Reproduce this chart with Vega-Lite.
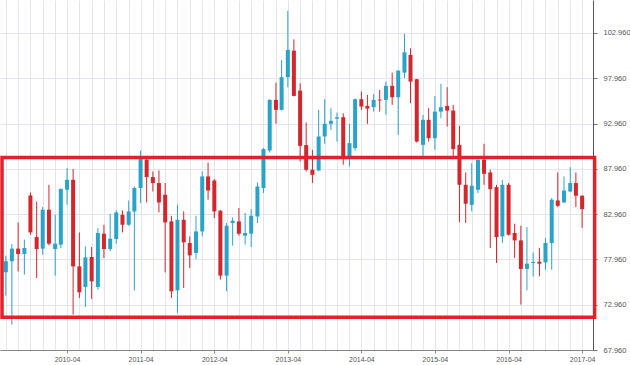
{
  "$schema": "https://vega.github.io/schema/vega-lite/v6.json",
  "width": 593,
  "height": 350,
  "padding": {"left": 0, "top": 0, "right": 37, "bottom": 15},
  "autosize": "none",
  "background": "white",
  "config": {"view": {"stroke": null}, "axis": {"labelFont": "Liberation Sans"}},
  "data": {"values": [
    {"d": "2009-06-01", "o": 76.53, "h": 78.37, "l": 73.96, "c": 77.75},
    {"d": "2009-07-01", "o": 77.75, "h": 79.66, "l": 70.77, "c": 79.15},
    {"d": "2009-08-01", "o": 79.15, "h": 82.05, "l": 76.64, "c": 78.56},
    {"d": "2009-09-01", "o": 78.56, "h": 80.14, "l": 76.28, "c": 79.22},
    {"d": "2009-10-01", "o": 85.02, "h": 85.35, "l": 80.69, "c": 80.94},
    {"d": "2009-11-01", "o": 80.43, "h": 84.36, "l": 75.91, "c": 79.11},
    {"d": "2009-12-01", "o": 79.15, "h": 83.74, "l": 78.48, "c": 83.45},
    {"d": "2010-01-01", "o": 83.45, "h": 86.2, "l": 79.5, "c": 79.7},
    {"d": "2010-02-01", "o": 79.11, "h": 82.89, "l": 76.17, "c": 79.7},
    {"d": "2010-03-01", "o": 79.59, "h": 85.8, "l": 79.22, "c": 85.73},
    {"d": "2010-04-01", "o": 85.65, "h": 88.04, "l": 83.99, "c": 86.75},
    {"d": "2010-05-01", "o": 86.75, "h": 87.93, "l": 71.87, "c": 77.19},
    {"d": "2010-06-01", "o": 77.19, "h": 80.94, "l": 73.71, "c": 74.33},
    {"d": "2010-07-01", "o": 74.92, "h": 79.4, "l": 72.72, "c": 78.19},
    {"d": "2010-08-01", "o": 78.23, "h": 79.33, "l": 73.6, "c": 75.54},
    {"d": "2010-09-01", "o": 74.92, "h": 81.43, "l": 74.63, "c": 80.88},
    {"d": "2010-10-01", "o": 80.8, "h": 81.79, "l": 78.12, "c": 79.11},
    {"d": "2010-11-01", "o": 79.11, "h": 83.0, "l": 78.85, "c": 80.25},
    {"d": "2010-12-01", "o": 80.21, "h": 83.37, "l": 79.7, "c": 83.15},
    {"d": "2011-01-01", "o": 82.89, "h": 83.37, "l": 80.94, "c": 81.79},
    {"d": "2011-02-01", "o": 81.79, "h": 84.47, "l": 81.68, "c": 83.26},
    {"d": "2011-03-01", "o": 83.26, "h": 86.02, "l": 74.55, "c": 85.84},
    {"d": "2011-04-01", "o": 85.84, "h": 89.98, "l": 84.18, "c": 89.14},
    {"d": "2011-05-01", "o": 88.96, "h": 89.05, "l": 84.25, "c": 87.05},
    {"d": "2011-06-01", "o": 87.05, "h": 87.67, "l": 85.46, "c": 86.39},
    {"d": "2011-07-01", "o": 86.39, "h": 87.78, "l": 83.15, "c": 84.25},
    {"d": "2011-08-01", "o": 85.1, "h": 86.39, "l": 76.53, "c": 82.05},
    {"d": "2011-09-01", "o": 82.16, "h": 82.78, "l": 73.71, "c": 74.44},
    {"d": "2011-10-01", "o": 74.55, "h": 83.99, "l": 72.06, "c": 82.34},
    {"d": "2011-11-01", "o": 82.34, "h": 83.26, "l": 74.81, "c": 79.84},
    {"d": "2011-12-01", "o": 79.77, "h": 80.5, "l": 77.02, "c": 78.41},
    {"d": "2012-01-01", "o": 78.67, "h": 82.78, "l": 78.0, "c": 81.05},
    {"d": "2012-02-01", "o": 81.05, "h": 87.67, "l": 80.5, "c": 87.12},
    {"d": "2012-03-01", "o": 87.12, "h": 88.66, "l": 84.55, "c": 85.57},
    {"d": "2012-04-01", "o": 86.67, "h": 86.83, "l": 82.53, "c": 83.26},
    {"d": "2012-05-01", "o": 83.34, "h": 83.4, "l": 75.73, "c": 76.17},
    {"d": "2012-06-01", "o": 76.17, "h": 81.98, "l": 74.44, "c": 81.68},
    {"d": "2012-07-01", "o": 81.98, "h": 82.6, "l": 79.48, "c": 82.23},
    {"d": "2012-08-01", "o": 82.16, "h": 83.63, "l": 80.58, "c": 80.8},
    {"d": "2012-09-01", "o": 80.58, "h": 83.08, "l": 79.59, "c": 80.88},
    {"d": "2012-10-01", "o": 80.8, "h": 83.52, "l": 79.33, "c": 82.78},
    {"d": "2012-11-01", "o": 82.71, "h": 86.46, "l": 81.98, "c": 86.02},
    {"d": "2012-12-01", "o": 85.84, "h": 90.25, "l": 85.28, "c": 90.14},
    {"d": "2013-01-01", "o": 89.98, "h": 95.65, "l": 89.76, "c": 95.57},
    {"d": "2013-02-01", "o": 95.57, "h": 97.48, "l": 92.93, "c": 94.47},
    {"d": "2013-03-01", "o": 94.47, "h": 99.98, "l": 94.4, "c": 98.08},
    {"d": "2013-04-01", "o": 98.08, "h": 105.42, "l": 96.97, "c": 101.09},
    {"d": "2013-05-01", "o": 101.01, "h": 102.26, "l": 95.95, "c": 96.01},
    {"d": "2013-06-01", "o": 96.6, "h": 97.41, "l": 88.77, "c": 90.5},
    {"d": "2013-07-01", "o": 90.58, "h": 93.07, "l": 87.67, "c": 87.86},
    {"d": "2013-08-01", "o": 87.86, "h": 90.06, "l": 86.39, "c": 87.3},
    {"d": "2013-09-01", "o": 87.78, "h": 94.47, "l": 87.7, "c": 91.53},
    {"d": "2013-10-01", "o": 91.53, "h": 95.65, "l": 90.72, "c": 92.93},
    {"d": "2013-11-01", "o": 92.93, "h": 94.66, "l": 92.27, "c": 93.26},
    {"d": "2013-12-01", "o": 93.51, "h": 94.17, "l": 90.97, "c": 93.66},
    {"d": "2014-01-01", "o": 93.66, "h": 94.1, "l": 88.41, "c": 89.32},
    {"d": "2014-02-01", "o": 89.32, "h": 92.93, "l": 88.22, "c": 90.8},
    {"d": "2014-03-01", "o": 90.25, "h": 95.72, "l": 89.98, "c": 95.65},
    {"d": "2014-04-01", "o": 95.65, "h": 96.49, "l": 94.47, "c": 94.84},
    {"d": "2014-05-01", "o": 94.91, "h": 96.12, "l": 92.93, "c": 94.61},
    {"d": "2014-06-01", "o": 94.77, "h": 96.23, "l": 94.28, "c": 95.57},
    {"d": "2014-07-01", "o": 95.6, "h": 96.67, "l": 94.28, "c": 95.5},
    {"d": "2014-08-01", "o": 95.57, "h": 97.59, "l": 93.92, "c": 97.12},
    {"d": "2014-09-01", "o": 97.12, "h": 98.58, "l": 95.02, "c": 95.87},
    {"d": "2014-10-01", "o": 95.87, "h": 98.85, "l": 91.71, "c": 98.8},
    {"d": "2014-11-01", "o": 98.58, "h": 102.85, "l": 97.96, "c": 100.83},
    {"d": "2014-12-01", "o": 100.53, "h": 101.27, "l": 95.21, "c": 97.59},
    {"d": "2015-01-01", "o": 97.85, "h": 97.9, "l": 90.87, "c": 90.97},
    {"d": "2015-02-01", "o": 90.61, "h": 93.92, "l": 89.4, "c": 93.37},
    {"d": "2015-03-01", "o": 93.37, "h": 94.66, "l": 90.97, "c": 91.35},
    {"d": "2015-04-01", "o": 91.35, "h": 96.01, "l": 90.06, "c": 94.28},
    {"d": "2015-05-01", "o": 94.28, "h": 97.34, "l": 93.55, "c": 94.77},
    {"d": "2015-06-01", "o": 94.91, "h": 96.97, "l": 92.63, "c": 94.39},
    {"d": "2015-07-01", "o": 94.39, "h": 95.02, "l": 89.32, "c": 90.14},
    {"d": "2015-08-01", "o": 90.61, "h": 92.71, "l": 82.05, "c": 86.2},
    {"d": "2015-09-01", "o": 86.2, "h": 87.56, "l": 81.98, "c": 84.11},
    {"d": "2015-10-01", "o": 83.99, "h": 88.59, "l": 83.26, "c": 86.09},
    {"d": "2015-11-01", "o": 85.65, "h": 89.0, "l": 85.28, "c": 88.96},
    {"d": "2015-12-01", "o": 88.96, "h": 90.72, "l": 86.2, "c": 87.41},
    {"d": "2016-01-01", "o": 87.56, "h": 87.86, "l": 79.22, "c": 85.72},
    {"d": "2016-02-01", "o": 85.95, "h": 86.2, "l": 77.57, "c": 80.43},
    {"d": "2016-03-01", "o": 80.5, "h": 86.75, "l": 79.77, "c": 86.2},
    {"d": "2016-04-01", "o": 86.2, "h": 86.39, "l": 80.6, "c": 80.69},
    {"d": "2016-05-01", "o": 80.88, "h": 81.9, "l": 78.12, "c": 80.06},
    {"d": "2016-06-01", "o": 80.06, "h": 81.68, "l": 72.97, "c": 76.91},
    {"d": "2016-07-01", "o": 76.91, "h": 81.54, "l": 74.55, "c": 77.49},
    {"d": "2016-08-01", "o": 77.56, "h": 78.74, "l": 76.09, "c": 77.67},
    {"d": "2016-09-01", "o": 77.71, "h": 79.22, "l": 76.09, "c": 77.49},
    {"d": "2016-10-01", "o": 77.63, "h": 80.32, "l": 76.83, "c": 79.77},
    {"d": "2016-11-01", "o": 79.77, "h": 84.73, "l": 76.83, "c": 84.55},
    {"d": "2016-12-01", "o": 84.47, "h": 87.56, "l": 83.74, "c": 83.88},
    {"d": "2017-01-01", "o": 84.25, "h": 87.12, "l": 84.2, "c": 85.57},
    {"d": "2017-02-01", "o": 85.46, "h": 88.15, "l": 85.4, "c": 86.39},
    {"d": "2017-03-01", "o": 86.39, "h": 87.56, "l": 83.74, "c": 84.99},
    {"d": "2017-04-01", "o": 84.99, "h": 85.05, "l": 81.43, "c": 83.52}
  ]},
  "encoding": {
    "x": {
      "field": "d",
      "type": "temporal",
      "scale": {"type": "utc", "padding": 0, "domain": [{"year": 2009, "month": 5, "date": 3, "utc": true}, {"year": 2017, "month": 5, "date": 25, "utc": true}]},
      "axis": {
        "title": null,
        "values": [
          {"year": 2009, "month": 6, "date": 1, "utc": true},
          {"year": 2009, "month": 8, "date": 1, "utc": true},
          {"year": 2009, "month": 10, "date": 1, "utc": true},
          {"year": 2009, "month": 12, "date": 1, "utc": true},
          {"year": 2010, "month": 2, "date": 1, "utc": true},
          {"year": 2010, "month": 4, "date": 1, "utc": true},
          {"year": 2010, "month": 6, "date": 1, "utc": true},
          {"year": 2010, "month": 8, "date": 1, "utc": true},
          {"year": 2010, "month": 10, "date": 1, "utc": true},
          {"year": 2010, "month": 12, "date": 1, "utc": true},
          {"year": 2011, "month": 2, "date": 1, "utc": true},
          {"year": 2011, "month": 4, "date": 1, "utc": true},
          {"year": 2011, "month": 6, "date": 1, "utc": true},
          {"year": 2011, "month": 8, "date": 1, "utc": true},
          {"year": 2011, "month": 10, "date": 1, "utc": true},
          {"year": 2011, "month": 12, "date": 1, "utc": true},
          {"year": 2012, "month": 2, "date": 1, "utc": true},
          {"year": 2012, "month": 4, "date": 1, "utc": true},
          {"year": 2012, "month": 6, "date": 1, "utc": true},
          {"year": 2012, "month": 8, "date": 1, "utc": true},
          {"year": 2012, "month": 10, "date": 1, "utc": true},
          {"year": 2012, "month": 12, "date": 1, "utc": true},
          {"year": 2013, "month": 2, "date": 1, "utc": true},
          {"year": 2013, "month": 4, "date": 1, "utc": true},
          {"year": 2013, "month": 6, "date": 1, "utc": true},
          {"year": 2013, "month": 8, "date": 1, "utc": true},
          {"year": 2013, "month": 10, "date": 1, "utc": true},
          {"year": 2013, "month": 12, "date": 1, "utc": true},
          {"year": 2014, "month": 2, "date": 1, "utc": true},
          {"year": 2014, "month": 4, "date": 1, "utc": true},
          {"year": 2014, "month": 6, "date": 1, "utc": true},
          {"year": 2014, "month": 8, "date": 1, "utc": true},
          {"year": 2014, "month": 10, "date": 1, "utc": true},
          {"year": 2014, "month": 12, "date": 1, "utc": true},
          {"year": 2015, "month": 2, "date": 1, "utc": true},
          {"year": 2015, "month": 4, "date": 1, "utc": true},
          {"year": 2015, "month": 6, "date": 1, "utc": true},
          {"year": 2015, "month": 8, "date": 1, "utc": true},
          {"year": 2015, "month": 10, "date": 1, "utc": true},
          {"year": 2015, "month": 12, "date": 1, "utc": true},
          {"year": 2016, "month": 2, "date": 1, "utc": true},
          {"year": 2016, "month": 4, "date": 1, "utc": true},
          {"year": 2016, "month": 6, "date": 1, "utc": true},
          {"year": 2016, "month": 8, "date": 1, "utc": true},
          {"year": 2016, "month": 10, "date": 1, "utc": true},
          {"year": 2016, "month": 12, "date": 1, "utc": true},
          {"year": 2017, "month": 2, "date": 1, "utc": true},
          {"year": 2017, "month": 4, "date": 1, "utc": true}
        ],
        "labelExpr": "utcmonth(datum.value) == 3 ? utcFormat(datum.value, '%Y-%m') : ''",
        "grid": true,
        "gridColor": "#e2e5f0",
        "gridWidth": 1,
        "domainColor": "#8a8a8a",
        "tickColor": "#8a8a8a",
        "tickOpacity": {"condition": {"test": "utcmonth(datum.value) == 3", "value": 1}, "value": 0},
        "tickSize": 3,
        "labelPadding": 2,
        "labelFontSize": 7,
        "labelColor": "#555555",
        "labelOverlap": false
      }
    }
  },
  "layer": [
    {
      "mark": {"type": "rule", "strokeWidth": 1},
      "encoding": {
        "y": {
          "field": "l",
          "type": "quantitative",
          "scale": {"domain": [67.96, 106.6], "nice": false, "zero": false},
          "axis": {
            "orient": "right",
            "title": null,
            "values": [67.96, 72.96, 77.96, 82.96, 87.96, 92.96, 97.96, 102.96],
            "format": ".3f",
            "grid": true,
            "gridColor": "#e2e5f0",
            "domainColor": "#555555",
            "tickColor": "#777777",
            "tickSize": 4,
            "labelPadding": 6,
            "labelFontSize": 7.5,
            "labelColor": "#555555",
            "labelOverlap": false
          }
        },
        "y2": {"field": "h"},
        "color": {"condition": {"test": "datum.c >= datum.o", "value": "#2ba3c9"}, "value": "#d3262d"}
      }
    },
    {
      "mark": {"type": "bar", "size": 4},
      "encoding": {
        "y": {"field": "o", "type": "quantitative"},
        "y2": {"field": "c"},
        "color": {"condition": {"test": "datum.c >= datum.o", "value": "#2ba3c9"}, "value": "#d3262d"}
      }
    },
    {
      "data": {"values": [{"x0": "2009-05-13", "x1": "2017-06-02", "y0": 71.57, "y1": 89.21}]},
      "mark": {"type": "rect", "filled": false, "stroke": "#e0222b", "strokeWidth": 3.5, "clip": false},
      "encoding": {
        "x": {"field": "x0", "type": "temporal"},
        "x2": {"field": "x1"},
        "y": {"field": "y0", "type": "quantitative"},
        "y2": {"field": "y1"}
      }
    }
  ]
}
